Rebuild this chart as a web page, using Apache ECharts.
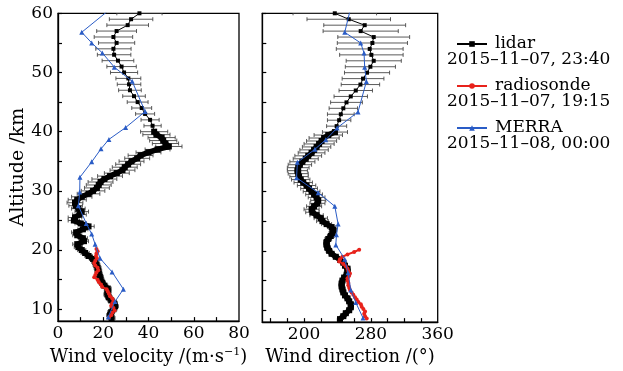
<!DOCTYPE html>
<html><head><meta charset="utf-8">
<script src="https://cdn.jsdelivr.net/npm/echarts@6/dist/echarts.min.js"></script>
<style>html,body{margin:0;padding:0;background:#fff}#c{width:623px;height:371px}</style>
</head><body><div id="c"></div>
<script>
// ---------- data ----------
const seriesNames = ['lidar', 'radiosonde', 'MERRA'];
const legendDates = ['2015\u201311\u201307, 23:40', '2015\u201311\u201307, 19:15', '2015\u201311\u201308, 00:00'];

const velLabelTicks = [0, 20, 40, 60, 80];
const velMinorTicks = [10, 20, 30, 40, 50, 60, 70];
const dirLabelTicks = [200, 280, 360];
const dirMinorTicks = [160, 180, 200, 220, 240, 260, 280, 300, 320, 340];
const altLabelTicks = [10, 20, 30, 40, 50, 60];
const altMinorTicks = [10, 15, 20, 25, 30, 35, 40, 45, 50, 55, 60];

const lidarAlt = [60,59,58,57,56,55,54,53,52,51,50,49,48,47,46,45,44,43,42,41,
  40,39.5,39,38.5,38,37.5,37,36.5,36,35.5,35,34.5,34,33.5,33,32.5,32,31.5,31,30.5,
  30,29.5,29,28.5,28,27.5,27,26.5,26,25.5,25,24.5,24,23.5,23,22.5,22,21.5,21,20.5,
  20,19.5,19,18.5,18,17.5,17,16.5,16,15.5,15,14.5,14,13.5,13,12.5,12,11.5,11,10.5,
  10,9.5,9,8.5];
const lidarVel = [36.0,32.3,30.8,25.9,24.5,25.9,24.5,24.8,26.5,28.1,29.2,31.1,31.4,31.8,33.6,35.2,37.0,38.5,40.7,41.8,
  42.5,43.5,45.8,46.5,47.5,49.0,44.0,40.0,36.5,35.0,32.5,31.0,29.5,28.5,26.0,23.0,20.5,18.8,18.0,17.2,
  15.5,13.5,10.5,8.5,7.5,7.8,9.0,10.5,9.5,7.5,7.0,10.0,13.5,11.0,8.0,8.5,11.0,11.5,8.5,9.0,
  10.5,12.0,13.5,15.5,16.5,17.0,17.5,17.8,18.0,18.5,18.8,19.5,20.5,22.0,22.0,21.8,22.5,23.5,24.8,25.2,
  24.5,23.5,23.0,23.7];
const lidarVelErr = [10,9.6,9.2,8.8,8.5,8,7.8,7.4,7,6.5,6,5.5,5.2,5,5,4.6,4.4,4.2,4,3.8,
  6,6,6,6,5.8,5.8,5.5,5.5,5.5,5.5,5.5,5.5,5.5,5.5,5.5,5.5,5.5,5.5,5.5,5.5,
  5.2,5,4.5,4,3.5,3,3,3,3,3,2.5,2.5,2.5,2.2,2,2,2,2,2,1.8,
  1.8,1.8,1.6,1.6,1.6,1.5,1.5,1.5,1.5,1.5,1.5,1.5,1.5,1.5,1.5,1.5,1.5,1.5,1.5,1.5,
  1.5,1.5,1.5,1.5];
const lidarDir = [236.8,253.5,272.6,267.8,283.4,281.8,278.6,280.6,283.4,279.4,275.4,270.6,267.5,261.9,255.9,250.8,247,244,242,239,
  237,229,224,221,218,215,212,209,205,202,198,195,193,192,193,194,196,199,203,206,
  209,212,215,217,216,212,209,210,215,220,222,227,233,235,234,232,229,227,227,228,
  230,233,238,243,247,249,252,252,251,248,246,245,245,246,247,249,252,254,256,256,
  254,250,247,243];
const lidarDirErr = [50,50,49,45,43,42,40,38,33,30,27,25,23,20,20,19,17,16,14,12,
  15,17,18,18,18,17,17,16,16,15,15,14,13,12,12,11,11,11,11,10,
  10,10,10,9,9,9,9,8,8,8,7,6,5,4,4,4,4,3.5,3.5,3.5,
  3.5,3,3,3,3,3,3,3,3,3,3,3,3,3,3,3,3,3,3,3,
  3,3,3,3];

const rsAlt = [20.2,19.8,19.4,19.0,18.6,18.2,17.8,17.4,17.0,16.6,16.2,15.8,15.4,15.0,14.6,14.2,13.8,13.4,13.0,12.6,12.2,11.8,11.4,11.0,10.6,10.2,9.8,9.4,9.0,8.6];
const rsVel = [17.0,17.5,17.0,16.8,17.2,16.5,16.0,16.5,17.5,17.8,17.0,16.5,16.0,17.5,18.0,19.0,19.5,21.5,22.0,22.5,23.0,24.0,24.5,24.0,23.5,24.5,25.0,24.0,23.5,22.5];
const rsDir = [266,260,252,246,243,242,247,250,252,253,255,254,252,252,253,253,254,255,257,259,261,263,265,268,269,271,273,272,273,275];

const merraAlt = [61,56.8,55.0,53.3,50.9,48.5,43.4,40.7,38.7,37.1,34.9,32.3,29.8,27.5,24.5,22.7,21.0,18.6,16.3,13.4,11.3,8.7];
const merraVel = [24,10.5,14.9,19.6,24.9,32.8,38.5,29.9,22.5,19.0,14.9,9.7,9.6,9.0,12.5,14.9,16.4,18.6,23.9,28.9,25.2,22.2];
const merraDir = [256,248.7,267.8,271.8,272.6,274.6,264.6,239.6,226,213,192,191,217,236.8,240.8,238.8,238,248.7,252.7,255.9,261.9,270.6];

// ---------- chart ----------
const FONT = '"DejaVu Serif", serif';
const chart = echarts.init(document.getElementById('c'), null, {renderer: 'canvas'});

function errRender(params, api) {
  const y = api.value(1);
  const p1 = api.coord([api.value(2), y]);
  const p2 = api.coord([api.value(3), y]);
  const h = 2;
  const style = {stroke: '#484848', lineWidth: 0.9, fill: null};
  return {type: 'group', children: [
    {type: 'line', shape: {x1: p1[0], y1: p1[1], x2: p2[0], y2: p2[1]}, style: style},
    {type: 'line', shape: {x1: p1[0], y1: p1[1] - h, x2: p1[0], y2: p1[1] + h}, style: style},
    {type: 'line', shape: {x1: p2[0], y1: p2[1] - h, x2: p2[0], y2: p2[1] + h}, style: style}
  ]};
}

function yAxis(idx, showLabels) {
  return {
    type: 'value', gridIndex: idx, min: 8, max: 60,
    name: showLabels ? 'Altitude /km' : '',
    nameLocation: 'middle', nameGap: 26,
    nameTextStyle: {fontFamily: FONT, fontSize: 19, color: '#000'},
    axisLine: {show: true, lineStyle: {color: '#000', width: 1.3}},
    axisTick: {show: true, inside: true, length: 4, customValues: altMinorTicks, lineStyle: {color: '#000', width: 1.2}},
    axisLabel: {show: showLabels, customValues: altLabelTicks, margin: 5, fontFamily: FONT, fontSize: 17, color: '#000'},
    splitLine: {show: false}
  };
}

// lidar points split: sparse (>= 40 km) and dense (<= 40 km) parts
const sparseIdx = lidarAlt.map((a, i) => i).filter(i => lidarAlt[i] >= 40);
const denseIdx = lidarAlt.map((a, i) => i).filter(i => lidarAlt[i] <= 40);

function lidarSeries(xi, vals, idx, dense) {
  return {type: 'line', name: 'lidar', xAxisIndex: xi, yAxisIndex: xi, z: 3, showAllSymbol: true,
    symbol: 'rect', symbolSize: dense ? 6 : 4,
    lineStyle: {color: '#000', width: dense ? 5.5 : 1}, itemStyle: {color: '#000'},
    data: idx.map(i => [vals[i], lidarAlt[i]])};
}

const option = {
  animation: false,
  backgroundColor: '#fff',
  grid: [
    {left: 58, top: 13.3, width: 181, height: 309.4, show: true, borderColor: '#000', borderWidth: 1.3, containLabel: false},
    {left: 262.3, top: 13.3, width: 175.4, height: 309.4, show: true, borderColor: '#000', borderWidth: 1.3, containLabel: false}
  ],
  xAxis: [
    {type: 'value', gridIndex: 0, min: 0, max: 80,
     name: 'Wind velocity /(m\u00b7s{sup|\u22121})', nameLocation: 'middle', nameGap: 21,
     nameTextStyle: {fontFamily: FONT, fontSize: 18, color: '#000',
       rich: {sup: {fontFamily: FONT, fontSize: 11, color: '#000', padding: [0, 0, 9, 0]}}},
     axisLine: {show: true, lineStyle: {color: '#000', width: 1.3}},
     axisTick: {show: true, inside: true, length: 4, customValues: velMinorTicks, lineStyle: {color: '#000', width: 1.2}},
     axisLabel: {customValues: velLabelTicks, margin: 4, fontFamily: FONT, fontSize: 17, color: '#000'},
     splitLine: {show: false}},
    {type: 'value', gridIndex: 1, min: 150, max: 360,
     name: 'Wind direction /(\u00b0)', nameLocation: 'middle', nameGap: 21,
     nameTextStyle: {fontFamily: FONT, fontSize: 18, color: '#000'},
     axisLine: {show: true, lineStyle: {color: '#000', width: 1.3}},
     axisTick: {show: true, inside: true, length: 4, customValues: dirMinorTicks, lineStyle: {color: '#000', width: 1.2}},
     axisLabel: {customValues: dirLabelTicks, margin: 4, fontFamily: FONT, fontSize: 17, color: '#000'},
     splitLine: {show: false}}
  ],
  yAxis: [yAxis(0, true), yAxis(1, false)],
  legend: {
    orient: 'vertical', left: 451, top: 29,
    data: seriesNames,
    itemWidth: 30, itemHeight: 7, itemGap: 22,
    textStyle: {fontFamily: FONT, fontSize: 17, color: '#000', lineHeight: 20, padding: [0, 0, 0, 3]}
  },
  graphic: legendDates.map((d, i) => ({
    type: 'text', left: 447, top: 51 + i * 42,
    style: {text: d, font: '17px "DejaVu Serif"', fill: '#000'}
  })),
  series: [
    {type: 'custom', name: 'lidarVelErr', xAxisIndex: 0, yAxisIndex: 0, clip: true, z: 1,
     renderItem: errRender, encode: {x: [0, 2, 3], y: 1},
     data: lidarAlt.map((a, i) => [lidarVel[i], a, lidarVel[i] - lidarVelErr[i], lidarVel[i] + lidarVelErr[i]])},
    {type: 'custom', name: 'lidarDirErr', xAxisIndex: 1, yAxisIndex: 1, clip: true, z: 1,
     renderItem: errRender, encode: {x: [0, 2, 3], y: 1},
     data: lidarAlt.map((a, i) => [lidarDir[i], a, lidarDir[i] - lidarDirErr[i], lidarDir[i] + lidarDirErr[i]])},
    lidarSeries(0, lidarVel, sparseIdx, false),
    lidarSeries(0, lidarVel, denseIdx, true),
    lidarSeries(1, lidarDir, sparseIdx, false),
    lidarSeries(1, lidarDir, denseIdx, true),
    {type: 'line', name: 'radiosonde', xAxisIndex: 0, yAxisIndex: 0, z: 4, showAllSymbol: true,
     symbol: 'circle', symbolSize: 4,
     lineStyle: {color: '#e8221b', width: 2}, itemStyle: {color: '#e8221b'},
     data: rsAlt.map((a, i) => [rsVel[i], a])},
    {type: 'line', name: 'radiosonde', xAxisIndex: 1, yAxisIndex: 1, z: 4, showAllSymbol: true,
     symbol: 'circle', symbolSize: 4,
     lineStyle: {color: '#e8221b', width: 2}, itemStyle: {color: '#e8221b'},
     data: rsAlt.map((a, i) => [rsDir[i], a])},
    {type: 'line', name: 'MERRA', xAxisIndex: 0, yAxisIndex: 0, z: 5, showAllSymbol: true,
     symbol: 'triangle', symbolSize: 5,
     lineStyle: {color: '#2a5cc6', width: 1}, itemStyle: {color: '#2a5cc6'},
     data: merraAlt.map((a, i) => [merraVel[i], a])},
    {type: 'line', name: 'MERRA', xAxisIndex: 1, yAxisIndex: 1, z: 5, showAllSymbol: true,
     symbol: 'triangle', symbolSize: 5,
     lineStyle: {color: '#2a5cc6', width: 1}, itemStyle: {color: '#2a5cc6'},
     data: merraAlt.map((a, i) => [merraDir[i], a])}
  ]
};
chart.setOption(option);
</script>
</body></html>
